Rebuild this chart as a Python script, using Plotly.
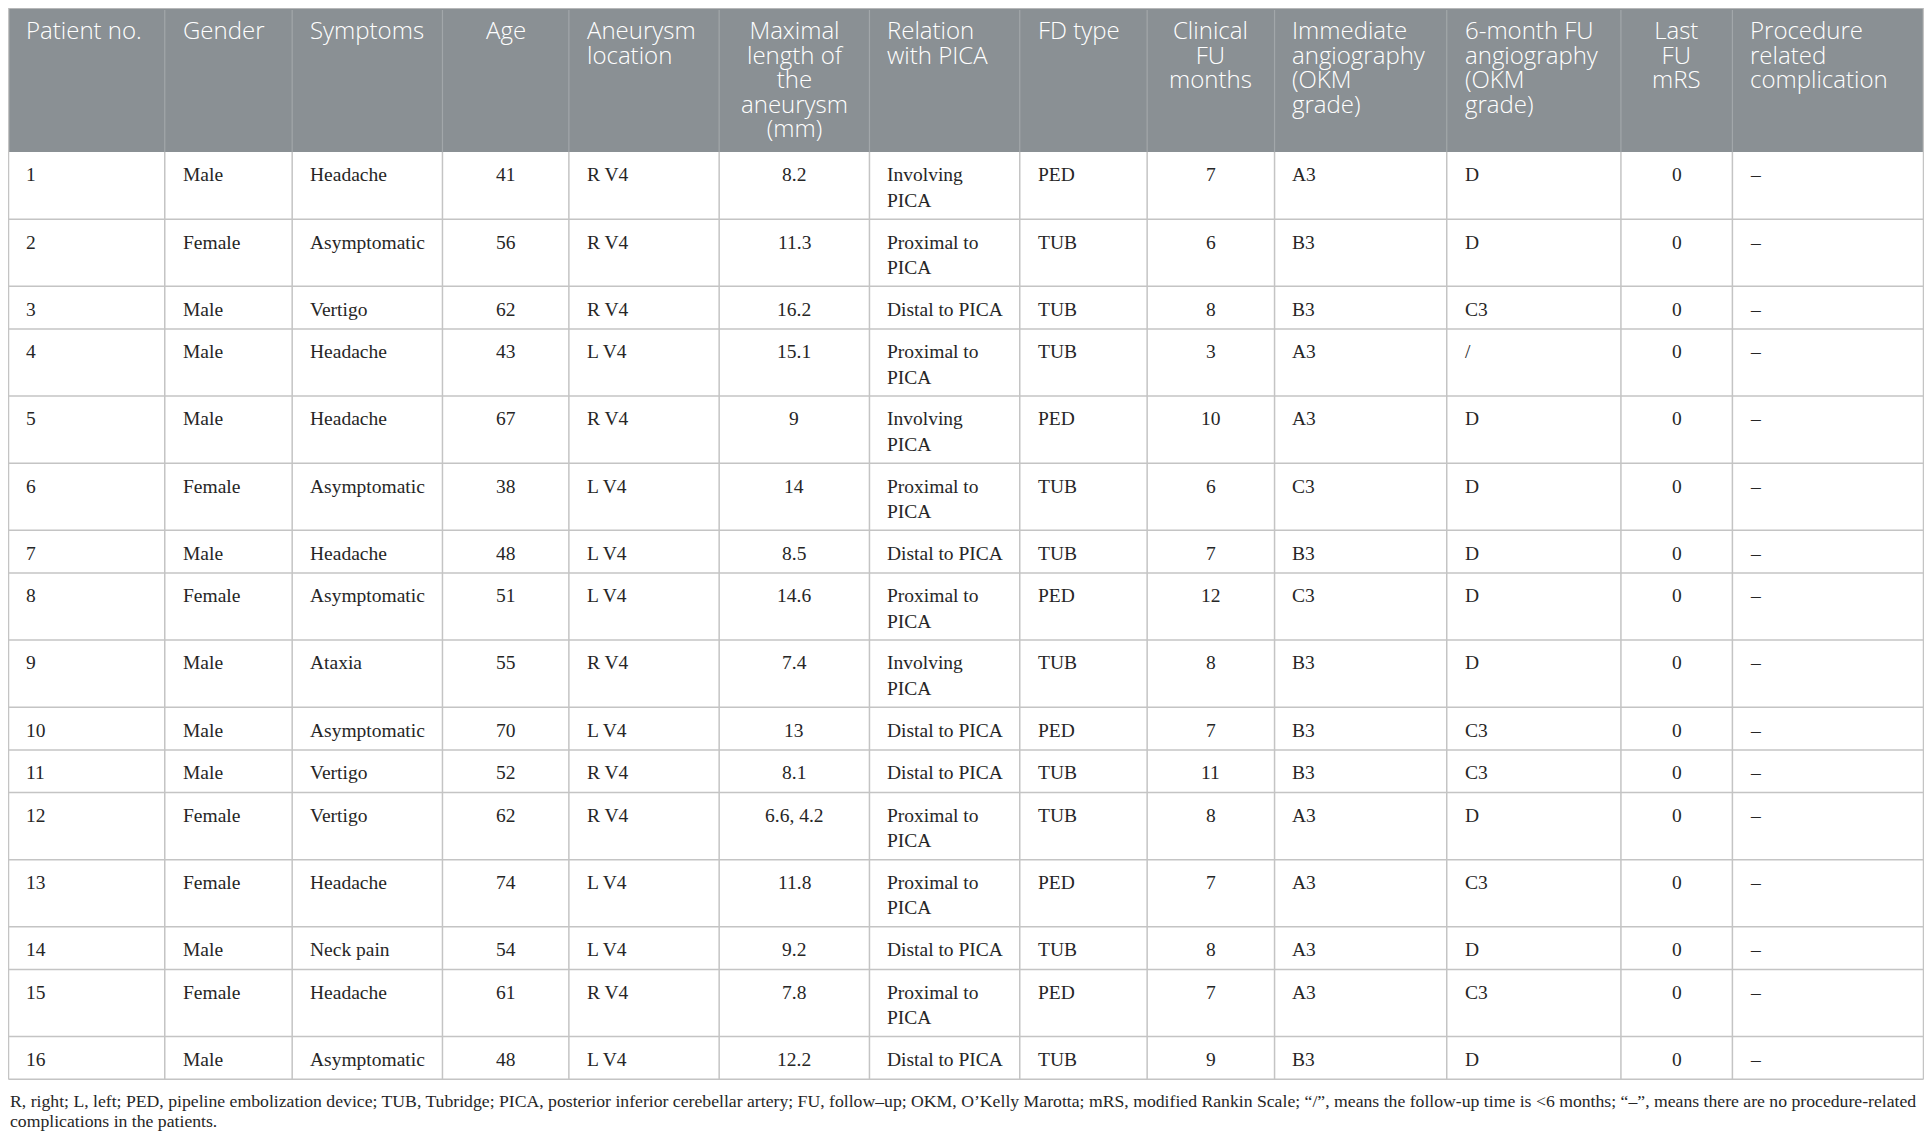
import plotly.graph_objects as go

# ---------------- data ----------------
headers = [
    "Patient no.", "Gender", "Symptoms", "Age", "Aneurysm<br>location",
    "Maximal<br>length of<br>the<br>aneurysm<br>(mm)", "Relation<br>with PICA", "FD type",
    "Clinical<br>FU<br>months", "Immediate<br>angiography<br>(OKM<br>grade)",
    "6-month FU<br>angiography<br>(OKM<br>grade)", "Last<br>FU<br>mRS",
    "Procedure<br>related<br>complication",
]
patient_no = [str(i) for i in range(1, 17)]
gender = ["Male", "Female", "Male", "Male", "Male", "Female", "Male", "Female",
          "Male", "Male", "Male", "Female", "Female", "Male", "Female", "Male"]
symptoms = ["Headache", "Asymptomatic", "Vertigo", "Headache", "Headache", "Asymptomatic",
            "Headache", "Asymptomatic", "Ataxia", "Asymptomatic", "Vertigo", "Vertigo",
            "Headache", "Neck pain", "Headache", "Asymptomatic"]
age = [41, 56, 62, 43, 67, 38, 48, 51, 55, 70, 52, 62, 74, 54, 61, 48]
location = ["R V4", "R V4", "R V4", "L V4", "R V4", "L V4", "L V4", "L V4",
            "R V4", "L V4", "R V4", "R V4", "L V4", "L V4", "R V4", "L V4"]
max_length = ["8.2", "11.3", "16.2", "15.1", "9", "14", "8.5", "14.6",
              "7.4", "13", "8.1", "6.6, 4.2", "11.8", "9.2", "7.8", "12.2"]
relation = ["Involving PICA", "Proximal to PICA", "Distal to PICA", "Proximal to PICA",
            "Involving PICA", "Proximal to PICA", "Distal to PICA", "Proximal to PICA",
            "Involving PICA", "Distal to PICA", "Distal to PICA", "Proximal to PICA",
            "Proximal to PICA", "Distal to PICA", "Proximal to PICA", "Distal to PICA"]
fd_type = ["PED", "TUB", "TUB", "TUB", "PED", "TUB", "TUB", "PED",
           "TUB", "PED", "TUB", "TUB", "PED", "TUB", "PED", "TUB"]
clinical_fu = [7, 6, 8, 3, 10, 6, 7, 12, 8, 7, 11, 8, 7, 8, 7, 9]
immediate = ["A3", "B3", "B3", "A3", "A3", "C3", "B3", "C3",
             "B3", "B3", "B3", "A3", "A3", "A3", "A3", "B3"]
six_month = ["D", "D", "C3", "/", "D", "D", "D", "D",
             "D", "C3", "C3", "D", "C3", "D", "C3", "D"]
last_mrs = [0] * 16
complication = ["–"] * 16

footnote_1 = ("R, right; L, left; PED, pipeline embolization device; TUB, Tubridge; PICA, posterior "
              "inferior cerebellar artery; FU, follow–up; OKM, O’Kelly Marotta; mRS, modified Rankin "
              "Scale; “/”, means the follow-up time is &lt;6 months; “–”, means there are no "
              "procedure-related")
footnote_2 = "complications in the patients."

columns = [patient_no, gender, symptoms, age, location, max_length, relation, fd_type,
           clinical_fu, immediate, six_month, last_mrs, complication]

# ---------------- layout / style ----------------
PAGE_W, PAGE_H = 1932, 1141
BODY_MARGIN = 8            # default page margin around the plot div
FIG_W, FIG_H = PAGE_W - 2 * BODY_MARGIN, PAGE_H - 2 * BODY_MARGIN
X_RANGE = [4.5, 1929.5]
Y_RANGE = [1137, 5]

edges = [5, 162, 290, 441, 568, 719, 870, 1021, 1149, 1277, 1450, 1625, 1737, 1929]
align = ["left", "left", "left", "center", "left", "center", "left", "left",
         "center", "left", "left", "center", "left"]
PAD = 17
TABLE_TOP = 5
HEADER_BOTTOM = 150
HEAD_SIZE = 24
HEAD_LINE = 24.6
BODY_FONT = dict(family="Liberation Serif", size=19.5, color="#262626")
# line pitch of a multi-line annotation is 1.3 x its base font size
HEAD_FONT = dict(family="Open Sans", size=HEAD_LINE / 1.3, color="#ffffff", weight=300)
HEAD_BG = "#8a9094"
GRID = "#c4c4c4"
HEAD_GRID = "#a2a7aa"
BODY_LINE = 25.5
SINGLE_ROW = 43
DOUBLE_EXTRA = 24.5

# approximate Times-like glyph widths (em) for wrapping
_w = {c: 0.5 for c in "abcdeghknopquvxyz0123456789"}
_w.update({c: 0.278 for c in "fijlrt.,;:'/ "})
_w.update({"s": 0.389, "m": 0.778, "w": 0.722, "a": 0.444, "c": 0.444, "e": 0.444, " ": 0.25,
           "I": 0.333, "P": 0.556, "C": 0.667, "A": 0.722, "D": 0.722, "H": 0.722,
           "V": 0.722, "R": 0.667, "L": 0.611, "M": 0.889, "N": 0.722, "T": 0.611, "B": 0.667,
           "E": 0.611})


def text_width(s, size):
    return sum(_w.get(ch, 0.6) for ch in s) * size


def wrap(s, width, size):
    words = str(s).split(" ")
    lines, cur = [], ""
    for w in words:
        trial = w if not cur else cur + " " + w
        if text_width(trial, size) <= width or not cur:
            cur = trial
        else:
            lines.append(cur)
            cur = w
    lines.append(cur)
    return lines


fig = go.Figure()
shapes, annotations = [], []

# header background
shapes.append(dict(type="rect", xref="x", yref="y", x0=edges[0], x1=edges[-1],
                   y0=TABLE_TOP, y1=HEADER_BOTTOM, fillcolor=HEAD_BG, line=dict(width=0), layer="below"))
shapes.append(dict(type="line", xref="x", yref="y", x0=edges[0], x1=edges[-1],
                   y0=TABLE_TOP, y1=TABLE_TOP, line=dict(color=GRID, width=1.5)))

# header text: one annotation per cell, glyphs enlarged inside a tighter line pitch
for j, htxt in enumerate(headers):
    x0, x1 = edges[j], edges[j + 1]
    xa = x0 + PAD if align[j] == "left" else (x0 + x1) / 2
    lines = htxt.split("<br>")
    txt = "<br>".join(f"<span style='font-size:{HEAD_SIZE}px'>{l}</span>" for l in lines)
    annotations.append(dict(x=xa, y=TABLE_TOP + 4, xref="x", yref="y",
                            text=txt, showarrow=False, xanchor=align[j], yanchor="top",
                            align=align[j], borderpad=0, font=HEAD_FONT))

# body rows
n_rows = len(patient_no)
y = HEADER_BOTTOM
for r in range(n_rows):
    cell_lines = []
    for j, col in enumerate(columns):
        avail = edges[j + 1] - edges[j] - 2 * PAD
        cell_lines.append(wrap(col[r], avail, BODY_FONT["size"]))
    n_lines = max(len(c) for c in cell_lines)
    h = SINGLE_ROW + (n_lines - 1) * DOUBLE_EXTRA
    for j, lines in enumerate(cell_lines):
        x0, x1 = edges[j], edges[j + 1]
        xa = x0 + PAD if align[j] == "left" else (x0 + x1) / 2
        for i, line in enumerate(lines):
            annotations.append(dict(x=xa, y=y + 23 + i * BODY_LINE, xref="x", yref="y",
                                    text=line, showarrow=False, xanchor=align[j], yanchor="middle",
                                    borderpad=0, font=BODY_FONT))
    y += h
    shapes.append(dict(type="line", xref="x", yref="y", x0=edges[0], x1=edges[-1],
                       y0=y, y1=y, line=dict(color=GRID, width=1.5)))
TABLE_BOTTOM = y

# vertical lines
for k, e in enumerate(edges):
    outer = k in (0, len(edges) - 1)
    shapes.append(dict(type="line", xref="x", yref="y", x0=e, x1=e,
                       y0=TABLE_TOP if outer else HEADER_BOTTOM, y1=TABLE_BOTTOM,
                       line=dict(color=GRID, width=1.5)))
    if not outer:
        shapes.append(dict(type="line", xref="x", yref="y", x0=e, x1=e,
                           y0=TABLE_TOP + 2, y1=HEADER_BOTTOM,
                           line=dict(color=HEAD_GRID, width=1.2)))

# footnote
FOOT_FONT = dict(family="Liberation Serif", size=17.7, color="#262626")
for i, t in enumerate([footnote_1, footnote_2]):
    annotations.append(dict(x=edges[0], y=TABLE_BOTTOM + 22 + i * 20, xref="x", yref="y",
                            text=t, showarrow=False, xanchor="left", yanchor="middle",
                            borderpad=0, font=FOOT_FONT))

fig.update_layout(
    width=FIG_W, height=FIG_H, margin=dict(l=0, r=0, t=0, b=0),
    paper_bgcolor="white", plot_bgcolor="white",
    xaxis=dict(range=X_RANGE, visible=False, fixedrange=True),
    yaxis=dict(range=Y_RANGE, visible=False, fixedrange=True),
    shapes=shapes, annotations=annotations, showlegend=False,
)
fig.write_html("out.html")
